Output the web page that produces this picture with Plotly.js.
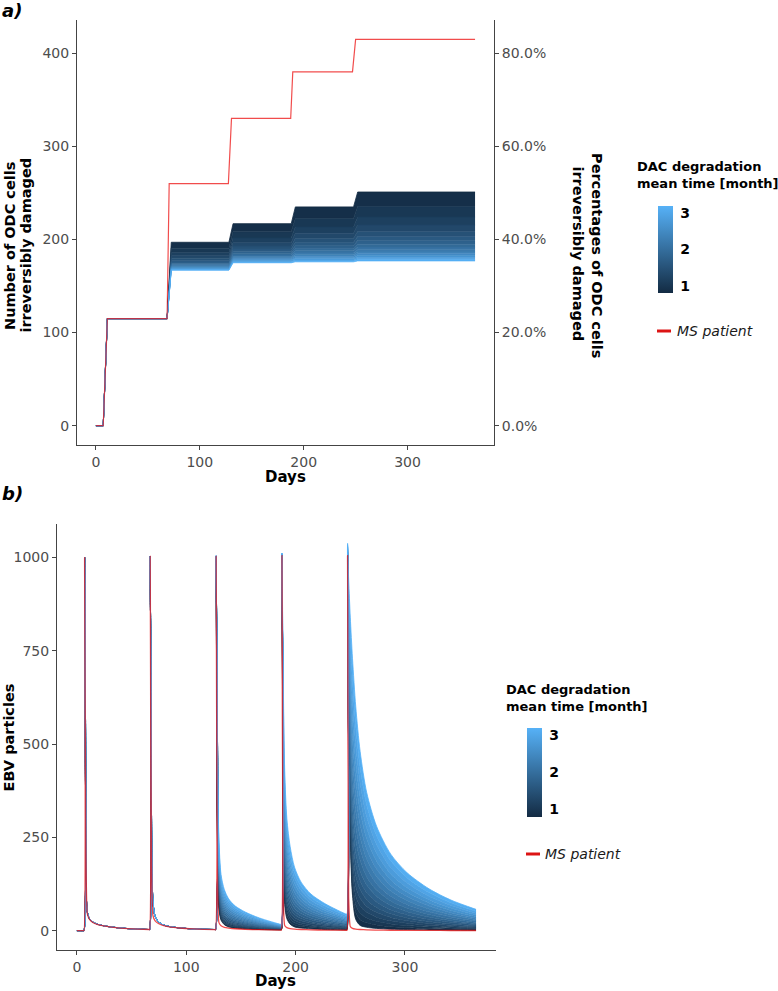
<!DOCTYPE html>
<html><head><meta charset="utf-8">
<script src="https://cdn.plot.ly/plotly-3.0.1.min.js"></script>
<style>html,body{margin:0;padding:0;background:#fff}</style>
</head><body><div id="chart" style="width:778px;height:991px"></div>
<script>
// ---------------- data ----------------
const dacMonths = [0.8, 0.95, 1.1, 1.25, 1.4, 1.55, 1.7, 1.85, 2.0, 2.15, 2.3, 2.45, 2.6, 2.75, 2.9, 3.05, 3.2];
const colorbarTicks = [1, 2, 3];
const totalODC = 500;
const lastDay = 365;
const xTicks = [0, 100, 200, 300];

// panel a: ODC cells irreversibly damaged
const redLevels = [0, 115, 260, 330, 380, 415];
const redRiseStart = [7, 68.5, 127.5, 187.5, 247];
const redRiseEnd = [11, 70.5, 130.5, 189.5, 250];
const blueRiseStart = [7, 68.5, 128, 188, 248];
const blueRiseEnd = [11, 72.5, 132, 192, 252];
// plateau level after each step (rows); one column per DAC degradation time
const bluePlateaus = [
  [115, 115, 115, 115, 115, 115, 115, 115, 115, 115, 115, 115, 115, 115, 115, 115, 115],
  [197, 190.7, 186.1, 182.6, 179.9, 177.6, 175.8, 174.3, 173, 171.9, 170.9, 170.1, 169.3, 168.6, 168, 167.5, 167],
  [217, 208.2, 201.7, 196.8, 193, 189.9, 187.4, 185.2, 183.4, 181.8, 180.5, 179.3, 178.2, 177.3, 176.4, 175.7, 175],
  [235, 222.6, 213.5, 206.7, 201.3, 196.9, 193.4, 190.3, 187.8, 185.6, 183.7, 182, 180.5, 179.2, 178, 177, 176],
  [251, 235.4, 224.1, 215.5, 208.7, 203.3, 198.8, 195, 191.8, 189, 186.6, 184.6, 182.7, 181, 179.6, 178.2, 177]
];
const leftTicksA = [0, 100, 200, 300, 400];
const pctTicksA = [0, 0.2, 0.4, 0.6, 0.8];

// panel b: EBV particles
const ebvLeadDays = [0, 6];      // flat at zero before the first infection
const ebvLeadValues = [0, 0];
const spikeDays = [6.5, 66.5, 126.8, 187, 247];
const decayTau = [0, 0.5, 1.5, 3, 5, 8, 12, 18, 27, 40, 59.5];
const lastDecayTau = [0, 0.5, 1.5, 3, 5, 8, 12, 18, 27, 40, 55, 75, 95, 118];
const ebvRed = [
  [0, 1000, 300, 45, 30, 22, 17, 13, 9, 5.5, 3],
  [3, 1003, 280, 40, 26, 19, 14, 10, 7, 4.5, 2.5],
  [2.5, 1003, 200, 22, 13, 9, 7, 5, 3.5, 2.5, 1.5],
  [1.5, 1005, 120, 14, 8, 5.5, 4, 3, 2, 1.5, 1],
  [1, 1005, 90, 11, 6, 4, 3, 2, 1.5, 1, 0.8, 0.5, 0.4, 0.3]
];
// first two spikes: all DAC lines coincide
const ebvBlueSpike1 = [0, 1000, 320, 50, 32, 23, 17.5, 13, 9, 5.5, 3];
const ebvBlueSpike2 = [3, 1003, 380, 80, 38, 24, 16, 11, 7.5, 4.5, 3];
// spikes 3-5: rows = decay time points, columns = DAC degradation times
const ebvBlueSpike3 = [
  [3, 3, 3, 3, 3, 3, 3, 3, 3, 3, 3, 3, 3, 3, 3, 3, 3],
  [1003, 1003, 1003, 1003, 1003, 1003, 1004, 1004, 1004, 1004, 1004, 1004, 1004, 1004, 1005, 1005, 1005],
  [300, 308, 317, 327, 337, 349, 362, 375, 390, 405, 422, 439, 457, 477, 497, 518, 540],
  [60, 66, 73, 81, 90, 99, 109, 120, 131, 143, 157, 170, 185, 200, 216, 233, 250],
  [28, 32, 36.5, 41.5, 47, 53, 59.5, 66, 74, 82, 90, 99, 108, 118, 128, 139, 150],
  [16, 19, 22.6, 26.4, 30.7, 35.3, 40.3, 45.5, 51.3, 57.3, 63.8, 70.5, 77.7, 85.3, 93.1, 101.4, 110],
  [10, 12.5, 15.3, 18.3, 21.7, 25.4, 29.4, 33.6, 38.1, 42.9, 48.1, 53.5, 59.2, 65.3, 71.5, 78.1, 85],
  [7, 8.9, 11.1, 13.5, 16.2, 19.1, 22.2, 25.5, 29.1, 32.9, 37, 41.2, 45.7, 50.5, 55.4, 60.6, 66],
  [5, 6.5, 8.2, 10, 12, 14.2, 16.6, 19.1, 21.9, 24.8, 27.9, 31.1, 34.5, 38.2, 41.9, 45.9, 50],
  [3, 4, 5.2, 6.4, 7.8, 9.4, 11, 12.7, 14.6, 16.6, 18.7, 21, 23.3, 25.8, 28.4, 31.1, 34],
  [2, 2.5, 3.1, 3.7, 4.3, 5.1, 5.9, 6.7, 7.6, 8.6, 9.6, 10.7, 11.8, 13.1, 14.3, 15.6, 17]
];
const ebvBlueSpike4 = [
  [2, 2.5, 3.1, 3.7, 4.3, 5.1, 5.9, 6.7, 7.6, 8.6, 9.6, 10.7, 11.8, 13.1, 14.3, 15.6, 17],
  [1005, 1005, 1005, 1006, 1006, 1006, 1007, 1007, 1008, 1008, 1009, 1009, 1010, 1010, 1011, 1011, 1012],
  [350, 362, 376, 391, 408, 426, 445, 466, 489, 512, 538, 565, 593, 623, 653, 686, 720],
  [70, 82, 95, 110, 126, 144, 163, 183, 205, 228, 253, 279, 306, 335, 365, 397, 430],
  [32, 41, 51, 62, 74, 87, 101, 116, 133, 150, 168, 187, 208, 230, 252, 275, 300],
  [17, 24, 32, 40, 49, 60, 71, 82, 95, 108, 123, 138, 153, 170, 188, 206, 225],
  [10, 15, 21, 28, 35, 43, 51, 60, 70, 80, 91, 103, 115, 128, 141, 155, 170],
  [7, 11, 15.6, 20.7, 26.2, 32.2, 38.7, 45.6, 53.1, 61, 69.5, 78.3, 87.7, 97.7, 108, 119, 130],
  [5, 8.1, 11.5, 15.3, 19.5, 24.1, 29, 34.2, 39.9, 45.8, 52.2, 58.9, 66, 73.5, 81.3, 89.4, 98],
  [3, 5.3, 7.8, 10.7, 13.8, 17.1, 20.8, 24.7, 28.9, 33.3, 38.1, 43, 48.3, 53.9, 59.6, 65.7, 72],
  [2, 3.4, 4.9, 6.7, 8.6, 10.6, 12.8, 15.2, 17.8, 20.4, 23.3, 26.4, 29.6, 33, 36.4, 40.1, 44]
];
const ebvBlueSpike5 = [
  [2, 3.4, 4.9, 6.7, 8.6, 10.6, 12.8, 15.2, 17.8, 20.4, 23.3, 26.4, 29.6, 33, 36.4, 40.1, 44],
  [1005, 1006, 1007, 1009, 1010, 1012, 1014, 1015, 1017, 1020, 1022, 1024, 1027, 1029, 1032, 1035, 1038],
  [600, 611, 624, 638, 653, 670, 688, 707, 728, 749, 773, 797, 823, 851, 879, 909, 940],
  [250, 270, 291, 316, 342, 371, 402, 435, 471, 509, 550, 592, 637, 685, 734, 786, 840],
  [95, 116, 140, 166, 194, 225, 259, 294, 333, 374, 418, 463, 512, 563, 616, 672, 730],
  [30, 49, 70, 93, 119, 147, 177, 209, 244, 280, 320, 361, 404, 450, 497, 548, 600],
  [14, 29, 47, 66, 87, 110, 134, 160, 189, 219, 251, 284, 320, 357, 396, 437, 480],
  [9, 21, 34, 49, 65, 83, 102, 122, 144, 168, 192, 218, 246, 275, 305, 337, 370],
  [6, 15, 25, 36, 49, 62, 77, 92, 109, 126, 145, 165, 186, 208, 231, 255, 280],
  [4, 10.6, 18.1, 26.3, 35.4, 45.2, 55.9, 67.1, 79.4, 92.2, 106, 121, 136, 152, 169, 187, 205],
  [3, 8, 13.6, 19.9, 26.7, 34.2, 42.2, 50.7, 60, 69.7, 80.2, 91.2, 102.7, 115, 127.6, 141, 155],
  [2, 5.6, 9.7, 14.2, 19.2, 24.6, 30.4, 36.5, 43.3, 50.3, 57.9, 65.8, 74.2, 83.1, 92.2, 101.9, 112],
  [1.5, 4.2, 7.1, 10.4, 14.1, 18, 22.3, 26.8, 31.7, 36.8, 42.4, 48.2, 54.3, 60.8, 67.5, 74.6, 82],
  [1, 2.8, 4.9, 7.2, 9.7, 12.5, 15.4, 18.6, 22, 25.6, 29.4, 33.5, 37.7, 42.3, 46.9, 51.8, 57]
];
const ebvTicks = [0, 250, 500, 750, 1000];

// ---------------- helpers ----------------
const FONT = 'DejaVu Sans';
const LOW = [0x13, 0x2B, 0x43], HIGH = [0x56, 0xB1, 0xF7];
const dMin = Math.min(...dacMonths), dMax = Math.max(...dacMonths);
function colorFor(d) {
  const t = (d - dMin) / (dMax - dMin);
  return LOW.map((v, i) => v + (HIGH[i] - v) * t);
}
const rgb = c => `rgb(${c.map(v => Math.round(v)).join(',')})`;
const mix = (a, b) => a.map((v, i) => (v + b[i]) / 2);
const RED_LINE = 'rgba(235,0,0,0.7)';

function stepSeries(levels, starts, ends) {
  const x = [0], y = [levels[0]];
  for (let k = 0; k < starts.length; k++) {
    x.push(starts[k], ends[k]);
    y.push(levels[k], levels[k + 1]);
  }
  x.push(lastDay); y.push(levels[levels.length - 1]);
  return {x, y};
}
function ebvSeries(segments) {
  const x = ebvLeadDays.slice(), y = ebvLeadValues.slice();
  segments.forEach((vals, k) => {
    const taus = k < spikeDays.length - 1 ? decayTau : lastDecayTau;
    vals.forEach((v, i) => { x.push(spikeDays[k] + taus[i]); y.push(v); });
  });
  return {x, y};
}

const traces = [];
// panel a blue family
dacMonths.forEach((d, j) => {
  const s = stepSeries([0, ...bluePlateaus.map(r => r[j])], blueRiseStart, blueRiseEnd);
  const c = colorFor(d);
  traces.push({
    x: s.x, y: s.y, xaxis: 'x', yaxis: 'y', mode: 'lines', type: 'scatter',
    line: {color: rgb(c), width: 0.8}, hoverinfo: 'skip', showlegend: false,
    fill: j === 0 ? 'none' : 'tonexty',
    fillcolor: j === 0 ? undefined : rgb(mix(c, colorFor(dacMonths[j - 1])))
  });
});
const redA = stepSeries(redLevels, redRiseStart, redRiseEnd);
traces.push({x: redA.x, y: redA.y, xaxis: 'x', yaxis: 'y', mode: 'lines', type: 'scatter',
  line: {color: RED_LINE, width: 1.2}, showlegend: false, hoverinfo: 'skip'});

function colorbarTrace(xa, ya, cb) {
  return {
    x: dacMonths.map(() => null), y: dacMonths.map(() => null), xaxis: xa, yaxis: ya,
    type: 'scatter', mode: 'markers', showlegend: false, hoverinfo: 'skip',
    marker: {color: dacMonths, cmin: dMin, cmax: dMax,
      colorscale: [[0, rgb(LOW)], [1, rgb(HIGH)]], showscale: true,
      colorbar: Object.assign({
        xanchor: 'left', yanchor: 'middle', xpad: 0, ypad: 0,
        lenmode: 'pixels', thicknessmode: 'pixels', thickness: 15,
        outlinewidth: 0, tickvals: colorbarTicks, ticks: 'outside', ticklen: 5,
        tickcolor: 'rgba(0,0,0,0)',
        tickfont: {family: FONT, size: 14, color: '#000', weight: 'bold'}
      }, cb)}
  };
}
traces.push(colorbarTrace('x', 'y2', {x: 658 / 778, y: 1 - 249.5 / 991, len: 87}));

// panel b blue family
dacMonths.forEach((d, j) => {
  const segs = [ebvBlueSpike1, ebvBlueSpike2,
    ebvBlueSpike3.map(r => r[j]), ebvBlueSpike4.map(r => r[j]), ebvBlueSpike5.map(r => r[j])];
  const s = ebvSeries(segs);
  const c = colorFor(d);
  traces.push({
    x: s.x, y: s.y, xaxis: 'x2', yaxis: 'y3', mode: 'lines', type: 'scatter',
    line: {color: rgb(c), width: 0.8, shape: 'spline', smoothing: 0.8}, hoverinfo: 'skip', showlegend: false,
    fill: j === 0 ? 'none' : 'tonexty',
    fillcolor: j === 0 ? undefined : rgb(mix(c, colorFor(dacMonths[j - 1])))
  });
});
const redB = ebvSeries(ebvRed);
traces.push({x: redB.x, y: redB.y, xaxis: 'x2', yaxis: 'y3', mode: 'lines', type: 'scatter',
  line: {color: RED_LINE, width: 1.3, shape: 'spline', smoothing: 0.5}, showlegend: false, hoverinfo: 'skip'});
traces.push(colorbarTrace('x2', 'y3', {x: 527 / 778, y: 1 - 772.5 / 991, len: 89}));

// ---------------- layout ----------------
const expand = (lo, hi) => [lo - (hi - lo) * 0.05, hi + (hi - lo) * 0.05];
const xRange = expand(0, lastDay);
const yRangeA = expand(0, Math.max(...redLevels));
const yRangeB = expand(0, Math.max(...ebvBlueSpike5[1], ...ebvRed.map(r => Math.max(...r))));

const axisBase = {
  showline: true, linecolor: '#444', linewidth: 1, ticks: 'outside', ticklen: 4,
  tickcolor: '#444', tickwidth: 1, showgrid: false, zeroline: false,
  tickfont: {family: FONT, size: 14, color: '#4d4d4d'}, fixedrange: true
};
const px = v => v / 778, py = v => 1 - v / 991;

const ann = (text, x, y, o) => Object.assign({
  text, x: px(x), y: py(y), xref: 'paper', yref: 'paper', showarrow: false,
  xanchor: 'center', yanchor: 'middle',
  font: {family: FONT, size: 14.5, color: '#000'}
}, o || {});
const legFont = {family: FONT, size: 13, color: '#000'};
const keyFont = {family: FONT, size: 14, color: '#1a1a1a'};

const annotations = [
  ann('<b><i>a)</i></b>', 0, 10, {xanchor: 'left', font: {family: FONT, size: 18, color: '#000'}}),
  ann('<b><i>b)</i></b>', 0, 494, {xanchor: 'left', font: {family: FONT, size: 18, color: '#000'}}),
  ann('<b>Number of ODC cells</b>', 10, 246, {textangle: -90}),
  ann('<b>irreversibly damaged</b>', 25.5, 245, {textangle: -90}),
  ann('<b>Percentages of ODC cells</b>', 597, 255, {textangle: 90}),
  ann('<b>irreversibly damaged</b>', 577.5, 254, {textangle: 90}),
  ann('<b>Days</b>', 285.5, 477, {font: {family: FONT, size: 15, color: '#000'}}),
  ann('<b>EBV particles</b>', 8, 737.5, {textangle: -90}),
  ann('<b>Days</b>', 275, 981, {font: {family: FONT, size: 15, color: '#000'}}),
  ann('<b>DAC degradation</b>', 635, 167, {xanchor: 'left', font: legFont}),
  ann('<b>mean time [month]</b>', 635, 183.5, {xanchor: 'left', font: legFont}),
  ann('<i>MS patient</i>', 675, 331, {xanchor: 'left', font: keyFont}),
  ann('<b>DAC degradation</b>', 504, 689.5, {xanchor: 'left', font: legFont}),
  ann('<b>mean time [month]</b>', 504, 706.5, {xanchor: 'left', font: legFont}),
  ann('<i>MS patient</i>', 543, 854, {xanchor: 'left', font: keyFont})
];
const keyLine = (x0, x1, y) => ({type: 'line', xref: 'paper', yref: 'paper',
  x0: px(x0), x1: px(x1), y0: py(y), y1: py(y), line: {color: 'rgb(220,20,20)', width: 3}});

const layout = {
  width: 778, height: 991, autosize: false,
  margin: {l: 0, r: 0, t: 0, b: 0, pad: 0},
  paper_bgcolor: '#fff', plot_bgcolor: '#fff',
  font: {family: FONT},
  showlegend: false,
  xaxis: Object.assign({}, axisBase, {domain: [px(77), px(494)], range: xRange, anchor: 'y', tickvals: xTicks}),
  yaxis: Object.assign({}, axisBase, {domain: [py(445), py(20)], range: yRangeA, anchor: 'x', tickvals: leftTicksA}),
  yaxis2: Object.assign({}, axisBase, {overlaying: 'y', side: 'right', anchor: 'x',
    range: yRangeA.map(v => v / totalODC), tickvals: pctTicksA, tickformat: '.1%'}),
  xaxis2: Object.assign({}, axisBase, {domain: [px(57), px(496)], range: xRange, anchor: 'y3', tickvals: xTicks}),
  yaxis3: Object.assign({}, axisBase, {domain: [py(950), py(524)], range: yRangeB, anchor: 'x2', tickvals: ebvTicks}),
  annotations,
  shapes: [keyLine(657, 671, 331), keyLine(526, 540, 854)]
};

Plotly.newPlot('chart', traces, layout, {displayModeBar: false, staticPlot: true});
</script>
</body></html>
